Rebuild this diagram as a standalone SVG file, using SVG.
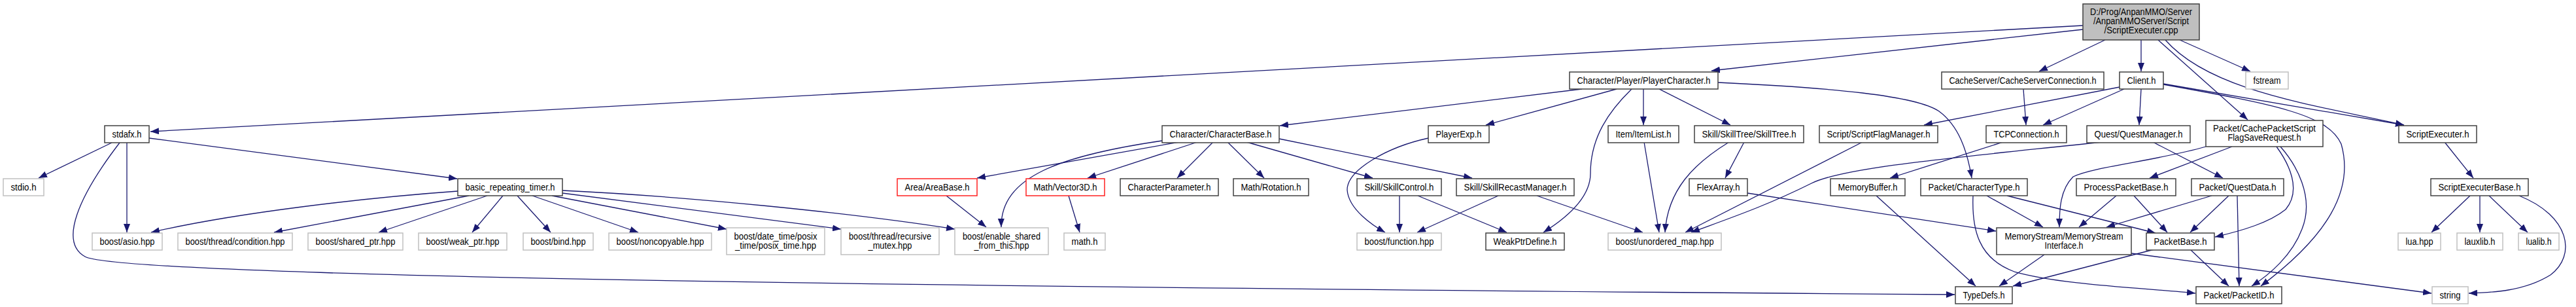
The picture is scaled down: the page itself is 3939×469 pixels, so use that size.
<svg xmlns="http://www.w3.org/2000/svg" width="3939" height="469" viewBox="0 0 3939 469">
<style>
rect{stroke-width:1.5}
.d rect{fill:#fff;stroke:#404040}
.g rect{fill:#fff;stroke:#c0c0c0}
.r rect{fill:#fff;stroke:#ff2020}
.root rect{fill:#bfbfbf;stroke:#404040}
text{font-family:"Liberation Sans",Arial,sans-serif;font-size:14px;fill:#000;text-anchor:middle;lengthAdjust:spacingAndGlyphs}
#edges path{fill:none;stroke:#191970;stroke-width:1.3;marker-end:url(#arrow)}
</style>
<defs>
<marker id="arrow" markerWidth="13" markerHeight="10" refX="13" refY="5" orient="auto" markerUnits="userSpaceOnUse"><path d="M0,0 L13,5 L0,10 z" fill="#191970" stroke="none"/></marker>
</defs>
<rect x="0" y="0" width="3939" height="469" fill="#fff" stroke="none"/>
<g id="edges">
<path d="M3185,39 L230,201"/>
<path d="M3185,45 L2617,108"/>
<path d="M3219,61 L3118,109"/>
<path d="M3274,61 L3274,109"/>
<path d="M3333,61 L3441,109"/>
<path d="M3300,61 L3437,183"/>
<path d="M3311,61 C3380,140 3540,160 3676,191"/>
<path d="M3308,128 L3676,191"/>
<path d="M3308,129 C3480,160 3560,175 3580,220 C3600,290 3560,360 3457,437"/>
<path d="M171,218 L59,272"/>
<path d="M194,218 L194,355"/>
<path d="M183,218 C120,300 90,370 130,392 C180,420 1200,437 2989,450"/>
<path d="M228,211 L699,273"/>
<path d="M700,292 C560,302 360,325 231,355"/>
<path d="M717,299 L419,355"/>
<path d="M745,299 L579,355"/>
<path d="M769,299 L722,355"/>
<path d="M791,299 L842,355"/>
<path d="M814,299 L976,355"/>
<path d="M844,299 L1111,350"/>
<path d="M860,295 L1286,350"/>
<path d="M860,291 C1050,300 1300,325 1460,350"/>
<path d="M1803,217 L1494,272"/>
<path d="M1777,215 C1620,238 1530,270 1531,347"/>
<path d="M1831,217 L1663,272"/>
<path d="M1855,217 L1800,272"/>
<path d="M1877,217 L1933,272"/>
<path d="M1906,217 L2099,272"/>
<path d="M1956,212 L2251,272"/>
<path d="M1447,299 L1508,347"/>
<path d="M1634,299 L1651,355"/>
<path d="M2419,136 L1957,192"/>
<path d="M2472,136 L2272,191"/>
<path d="M2495,136 C2460,170 2432,210 2432,265 C2432,300 2400,330 2360,355"/>
<path d="M2513,136 L2513,191"/>
<path d="M2537,136 L2646,191"/>
<path d="M2627,126 C2800,134 2930,146 2965,170 C2995,192 3008,230 3015,272"/>
<path d="M2184,211 C2120,225 2060,260 2060,290 C2062,320 2100,345 2118,355"/>
<path d="M2140,299 L2140,355"/>
<path d="M2168,299 L2304,355"/>
<path d="M2291,299 L2167,355"/>
<path d="M2350,299 L2512,355"/>
<path d="M2514,217 L2537,355"/>
<path d="M2644,217 C2590,250 2550,290 2546,355"/>
<path d="M2667,217 L2638,272"/>
<path d="M2848,217 L2577,355"/>
<path d="M3214,217 C3000,240 2820,255 2770,280 C2700,315 2640,335 2586,355"/>
<path d="M3063,217 L2890,272"/>
<path d="M3248,136 L3124,191"/>
<path d="M3241,133 L2942,191"/>
<path d="M3274,136 L3271,191"/>
<path d="M3094,136 L3098,191"/>
<path d="M3292,217 L3399,272"/>
<path d="M3413,224 L3287,272"/>
<path d="M3373,224 C3300,245 3200,255 3170,270 C3150,290 3149,320 3149,347"/>
<path d="M3481,224 C3500,250 3520,290 3495,320 C3470,340 3430,352 3387,362"/>
<path d="M3487,224 C3510,250 3540,300 3520,350 C3505,390 3470,420 3443,437"/>
<path d="M2672,295 L3052,353"/>
<path d="M2869,299 L3021,437"/>
<path d="M3038,299 L3124,347"/>
<path d="M3069,299 L3296,356"/>
<path d="M3017,299 C3015,350 3025,395 3080,415 C3150,435 3280,440 3357,448"/>
<path d="M3236,299 L3179,347"/>
<path d="M3263,299 L3314,355"/>
<path d="M3382,299 L3221,347"/>
<path d="M3408,299 L3349,355"/>
<path d="M3421,299 L3424,437"/>
<path d="M3126,389 L3057,437"/>
<path d="M3259,387 L3718,448"/>
<path d="M3294,381 L3078,437"/>
<path d="M3349,381 L3408,437"/>
<path d="M3738,217 L3782,272"/>
<path d="M3777,299 L3718,355"/>
<path d="M3792,299 L3792,355"/>
<path d="M3806,299 L3865,355"/>
<path d="M3852,299 C3930,330 3940,390 3900,420 C3860,445 3810,447 3775,448"/>
</g>
<g id="node-root" class="root"><rect x="3185" y="6" width="178" height="55"/><text x="3274" y="22.5" textLength="156" lengthAdjust="spacingAndGlyphs">D:/Prog/AnpanMMO/Server</text><text x="3274" y="36.5" textLength="146" lengthAdjust="spacingAndGlyphs">/AnpanMMOServer/Script</text><text x="3274" y="50.5" textLength="113" lengthAdjust="spacingAndGlyphs">/ScriptExecuter.cpp</text></g>
<g id="node-playercharacter" class="d"><rect x="2400" y="110" width="227" height="26"/><text x="2513.5" y="127.5" textLength="204" lengthAdjust="spacingAndGlyphs">Character/Player/PlayerCharacter.h</text></g>
<g id="node-cacheserverconnection" class="d"><rect x="2969" y="110" width="248" height="26"/><text x="3093" y="127.5" textLength="225" lengthAdjust="spacingAndGlyphs">CacheServer/CacheServerConnection.h</text></g>
<g id="node-client" class="d"><rect x="3241" y="110" width="67" height="26"/><text x="3274.5" y="127.5" textLength="44" lengthAdjust="spacingAndGlyphs">Client.h</text></g>
<g id="node-fstream" class="g"><rect x="3434" y="110" width="65" height="26"/><text x="3466.5" y="127.5" textLength="42" lengthAdjust="spacingAndGlyphs">fstream</text></g>
<g id="node-stdafx" class="d"><rect x="160" y="192" width="68" height="26"/><text x="194" y="209.5" textLength="45" lengthAdjust="spacingAndGlyphs">stdafx.h</text></g>
<g id="node-characterbase" class="d"><rect x="1777" y="192" width="179" height="26"/><text x="1866.5" y="209.5" textLength="156" lengthAdjust="spacingAndGlyphs">Character/CharacterBase.h</text></g>
<g id="node-playerexp" class="d"><rect x="2184" y="192" width="93" height="26"/><text x="2230.5" y="209.5" textLength="70" lengthAdjust="spacingAndGlyphs">PlayerExp.h</text></g>
<g id="node-itemlist" class="d"><rect x="2459" y="192" width="108" height="26"/><text x="2513" y="209.5" textLength="85" lengthAdjust="spacingAndGlyphs">Item/ItemList.h</text></g>
<g id="node-skilltree" class="d"><rect x="2591" y="192" width="167" height="26"/><text x="2674.5" y="209.5" textLength="144" lengthAdjust="spacingAndGlyphs">Skill/SkillTree/SkillTree.h</text></g>
<g id="node-scriptflagmanager" class="d"><rect x="2782" y="192" width="181" height="26"/><text x="2872.5" y="209.5" textLength="158" lengthAdjust="spacingAndGlyphs">Script/ScriptFlagManager.h</text></g>
<g id="node-tcpconnection" class="d"><rect x="3037" y="192" width="123" height="26"/><text x="3098.5" y="209.5" textLength="100" lengthAdjust="spacingAndGlyphs">TCPConnection.h</text></g>
<g id="node-questmanager" class="d"><rect x="3191" y="192" width="158" height="26"/><text x="3270" y="209.5" textLength="135" lengthAdjust="spacingAndGlyphs">Quest/QuestManager.h</text></g>
<g id="node-cacherequest" class="d"><rect x="3373" y="184" width="179" height="40"/><text x="3462.5" y="201" textLength="157" lengthAdjust="spacingAndGlyphs">Packet/CachePacketScript</text><text x="3462.5" y="215" textLength="112" lengthAdjust="spacingAndGlyphs">FlagSaveRequest.h</text></g>
<g id="node-scriptexecuter" class="d"><rect x="3668" y="192" width="119" height="26"/><text x="3727.5" y="209.5" textLength="96" lengthAdjust="spacingAndGlyphs">ScriptExecuter.h</text></g>
<g id="node-stdio" class="g"><rect x="5" y="273" width="62" height="26"/><text x="36" y="290.5" textLength="39" lengthAdjust="spacingAndGlyphs">stdio.h</text></g>
<g id="node-timer" class="d"><rect x="700" y="273" width="160" height="26"/><text x="780" y="290.5" textLength="137" lengthAdjust="spacingAndGlyphs">basic_repeating_timer.h</text></g>
<g id="node-areabase" class="r"><rect x="1372" y="273" width="122" height="26"/><text x="1433" y="290.5" textLength="99" lengthAdjust="spacingAndGlyphs">Area/AreaBase.h</text></g>
<g id="node-vector3d" class="r"><rect x="1569" y="273" width="120" height="26"/><text x="1629" y="290.5" textLength="97" lengthAdjust="spacingAndGlyphs">Math/Vector3D.h</text></g>
<g id="node-characterparameter" class="d"><rect x="1713" y="273" width="150" height="26"/><text x="1788" y="290.5" textLength="127" lengthAdjust="spacingAndGlyphs">CharacterParameter.h</text></g>
<g id="node-rotation" class="d"><rect x="1886" y="273" width="115" height="26"/><text x="1943.5" y="290.5" textLength="92" lengthAdjust="spacingAndGlyphs">Math/Rotation.h</text></g>
<g id="node-skillcontrol" class="d"><rect x="2075" y="273" width="129" height="26"/><text x="2139.5" y="290.5" textLength="106" lengthAdjust="spacingAndGlyphs">Skill/SkillControl.h</text></g>
<g id="node-skillrecast" class="d"><rect x="2227" y="273" width="180" height="26"/><text x="2317" y="290.5" textLength="157" lengthAdjust="spacingAndGlyphs">Skill/SkillRecastManager.h</text></g>
<g id="node-flexarray" class="d"><rect x="2583" y="273" width="89" height="26"/><text x="2627.5" y="290.5" textLength="66" lengthAdjust="spacingAndGlyphs">FlexArray.h</text></g>
<g id="node-memorybuffer" class="d"><rect x="2799" y="273" width="114" height="26"/><text x="2856" y="290.5" textLength="91" lengthAdjust="spacingAndGlyphs">MemoryBuffer.h</text></g>
<g id="node-charactertype" class="d"><rect x="2937" y="273" width="163" height="26"/><text x="3018.5" y="290.5" textLength="140" lengthAdjust="spacingAndGlyphs">Packet/CharacterType.h</text></g>
<g id="node-processpacketbase" class="d"><rect x="3175" y="273" width="152" height="26"/><text x="3251" y="290.5" textLength="129" lengthAdjust="spacingAndGlyphs">ProcessPacketBase.h</text></g>
<g id="node-questdata" class="d"><rect x="3351" y="273" width="141" height="26"/><text x="3421.5" y="290.5" textLength="118" lengthAdjust="spacingAndGlyphs">Packet/QuestData.h</text></g>
<g id="node-scriptexecuterbase" class="d"><rect x="3717" y="273" width="149" height="26"/><text x="3791.5" y="290.5" textLength="126" lengthAdjust="spacingAndGlyphs">ScriptExecuterBase.h</text></g>
<g id="node-asio" class="g"><rect x="141" y="356" width="107" height="26"/><text x="194.5" y="373.5" textLength="84" lengthAdjust="spacingAndGlyphs">boost/asio.hpp</text></g>
<g id="node-condition" class="g"><rect x="272" y="356" width="175" height="26"/><text x="359.5" y="373.5" textLength="152" lengthAdjust="spacingAndGlyphs">boost/thread/condition.hpp</text></g>
<g id="node-sharedptr" class="g"><rect x="471" y="356" width="145" height="26"/><text x="543.5" y="373.5" textLength="122" lengthAdjust="spacingAndGlyphs">boost/shared_ptr.hpp</text></g>
<g id="node-weakptr" class="g"><rect x="640" y="356" width="135" height="26"/><text x="707.5" y="373.5" textLength="112" lengthAdjust="spacingAndGlyphs">boost/weak_ptr.hpp</text></g>
<g id="node-bind" class="g"><rect x="800" y="356" width="107" height="26"/><text x="853.5" y="373.5" textLength="84" lengthAdjust="spacingAndGlyphs">boost/bind.hpp</text></g>
<g id="node-noncopyable" class="g"><rect x="931" y="356" width="157" height="26"/><text x="1009.5" y="373.5" textLength="134" lengthAdjust="spacingAndGlyphs">boost/noncopyable.hpp</text></g>
<g id="node-posixtime" class="g"><rect x="1111" y="348" width="150" height="41"/><text x="1186" y="365.5" textLength="127" lengthAdjust="spacingAndGlyphs">boost/date_time/posix</text><text x="1186" y="379.5" textLength="124" lengthAdjust="spacingAndGlyphs">_time/posix_time.hpp</text></g>
<g id="node-recursivemutex" class="g"><rect x="1286" y="348" width="150" height="41"/><text x="1361" y="365.5" textLength="126" lengthAdjust="spacingAndGlyphs">boost/thread/recursive</text><text x="1361" y="379.5" textLength="67" lengthAdjust="spacingAndGlyphs">_mutex.hpp</text></g>
<g id="node-enableshared" class="g"><rect x="1460" y="348" width="143" height="41"/><text x="1531.5" y="365.5" textLength="119" lengthAdjust="spacingAndGlyphs">boost/enable_shared</text><text x="1531.5" y="379.5" textLength="84" lengthAdjust="spacingAndGlyphs">_from_this.hpp</text></g>
<g id="node-math" class="g"><rect x="1627" y="356" width="63" height="26"/><text x="1658.5" y="373.5" textLength="40" lengthAdjust="spacingAndGlyphs">math.h</text></g>
<g id="node-function" class="g"><rect x="2075" y="356" width="129" height="26"/><text x="2139.5" y="373.5" textLength="106" lengthAdjust="spacingAndGlyphs">boost/function.hpp</text></g>
<g id="node-weakptrdefine" class="d"><rect x="2272" y="356" width="120" height="26"/><text x="2332" y="373.5" textLength="97" lengthAdjust="spacingAndGlyphs">WeakPtrDefine.h</text></g>
<g id="node-unorderedmap" class="g"><rect x="2459" y="356" width="173" height="26"/><text x="2545.5" y="373.5" textLength="150" lengthAdjust="spacingAndGlyphs">boost/unordered_map.hpp</text></g>
<g id="node-memorystreaminterface" class="d"><rect x="3053" y="348" width="206" height="41"/><text x="3156" y="365.5" textLength="181" lengthAdjust="spacingAndGlyphs">MemoryStream/MemoryStream</text><text x="3156" y="379.5" textLength="59" lengthAdjust="spacingAndGlyphs">Interface.h</text></g>
<g id="node-packetbase" class="d"><rect x="3282" y="356" width="104" height="26"/><text x="3334" y="373.5" textLength="81" lengthAdjust="spacingAndGlyphs">PacketBase.h</text></g>
<g id="node-lua" class="g"><rect x="3667" y="356" width="65" height="26"/><text x="3699.5" y="373.5" textLength="42" lengthAdjust="spacingAndGlyphs">lua.hpp</text></g>
<g id="node-lauxlib" class="g"><rect x="3757" y="356" width="70" height="26"/><text x="3792" y="373.5" textLength="47" lengthAdjust="spacingAndGlyphs">lauxlib.h</text></g>
<g id="node-lualib" class="g"><rect x="3851" y="356" width="62" height="26"/><text x="3882" y="373.5" textLength="39" lengthAdjust="spacingAndGlyphs">lualib.h</text></g>
<g id="node-typedefs" class="d"><rect x="2990" y="438" width="87" height="26"/><text x="3033.5" y="455.5" textLength="64" lengthAdjust="spacingAndGlyphs">TypeDefs.h</text></g>
<g id="node-packetid" class="d"><rect x="3358" y="438" width="131" height="26"/><text x="3423.5" y="455.5" textLength="108" lengthAdjust="spacingAndGlyphs">Packet/PacketID.h</text></g>
<g id="node-string" class="g"><rect x="3719" y="438" width="55" height="26"/><text x="3746.5" y="455.5" textLength="32" lengthAdjust="spacingAndGlyphs">string</text></g>
</svg>
